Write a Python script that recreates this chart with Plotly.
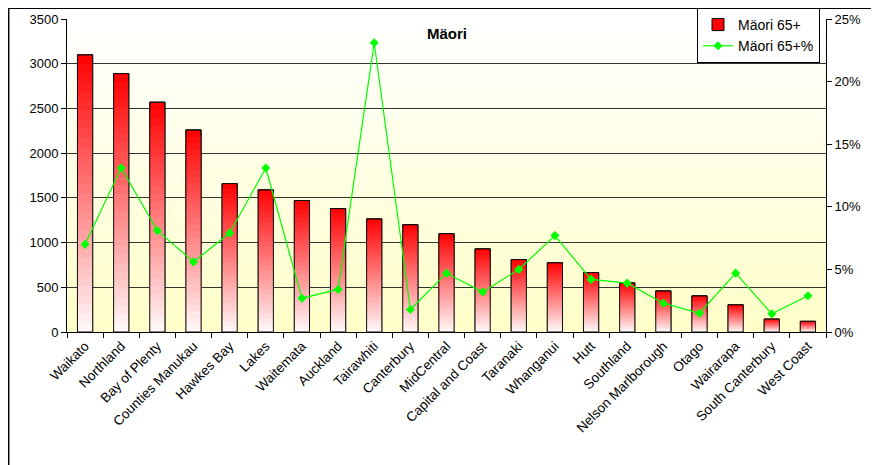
import plotly.graph_objects as go

categories = ["Waikato", "Northland", "Bay of Plenty", "Counties Manukau", "Hawkes Bay",
              "Lakes", "Waitemata", "Auckland", "Tairawhiti", "Canterbury", "MidCentral",
              "Capital and Coast", "Taranaki", "Whanganui", "Hutt", "Southland",
              "Nelson Marlborough", "Otago", "Wairarapa", "South Canterbury", "West Coast"]
maori_65 = [3100, 2890, 2570, 2260, 1660, 1590, 1470, 1380, 1265, 1200, 1100,
            930, 810, 775, 665, 550, 460, 405, 305, 145, 120]
maori_65_pct = [0.070, 0.131, 0.081, 0.056, 0.079, 0.131, 0.027, 0.034, 0.231, 0.018, 0.047,
                0.032, 0.050, 0.077, 0.042, 0.039, 0.023, 0.015, 0.047, 0.0145, 0.029]
left_ticks = [0, 500, 1000, 1500, 2000, 2500, 3000, 3500]
right_ticks = [0, 0.05, 0.10, 0.15, 0.20, 0.25]

OFF = 8  # page body margin
W, H = 879 - OFF, 465 - OFF
# plot area in page pixels
PL, PR, PT, PB = 67, 826, 19, 332
L, R, T, B = PL - OFF, PR - OFF, PT - OFF, PB - OFF

FONT = "Liberation Sans, Arial, sans-serif"

def px_x(p):  # page pixel -> paper
    return (p - OFF - L) / (R - L)

def px_y(p):
    return (B - (p - OFF)) / (B - T)

def mix(c1, c2, t):
    return "rgb(%d,%d,%d)" % tuple(round(a + (b - a) * t) for a, b in zip(c1, c2))

fig = go.Figure()

# gradient bars: overlay layers of decreasing height, red at top to white at bottom
N = 30
RED = (255, 0, 0)
WHITE = (255, 250, 250)
for k in range(N):
    f = 1 - k / N
    c = f - 0.5 / N
    fig.add_trace(go.Bar(
        x=categories, y=[v * f for v in maori_65],
        name="Mäori 65+", showlegend=(k == 0),
        marker=dict(color=mix(WHITE, RED, c),
                    line=dict(width=1 if k == 0 else 0, color="black")),
        hoverinfo="skip" if k > 0 else None,
        width=0.42,
    ))
# outline
fig.add_trace(go.Bar(
    x=categories, y=maori_65, showlegend=False, hoverinfo="skip",
    marker=dict(color="rgba(0,0,0,0)", line=dict(width=1, color="#111")),
    width=0.42,
))

fig.add_trace(go.Scatter(
    x=categories, y=maori_65_pct, name="Mäori 65+%", yaxis="y2",
    mode="lines+markers",
    line=dict(color="#00FF00", width=1.2),
    marker=dict(symbol="diamond", size=7, color="#00FF00"),
))

# background gradient (white top -> light yellow bottom)
shapes = []
NB = 40
for i in range(NB):
    y0 = i / NB
    y1 = (i + 1) / NB
    t = 1 - (i + 0.5) / NB
    shapes.append(dict(type="rect", xref="x domain", yref="y domain",
                       x0=0, x1=1, y0=y0, y1=y1 + 0.002,
                       fillcolor=mix((255, 255, 255), (255, 255, 200), t),
                       line=dict(width=0), layer="below"))
# outer frame lines (top and left edges of the chart box)
shapes.append(dict(type="line", xref="paper", yref="paper",
                   x0=px_x(8.7), x1=px_x(8.7), y0=px_y(8), y1=px_y(470),
                   line=dict(color="black", width=1.5)))
shapes.append(dict(type="line", xref="paper", yref="paper",
                   x0=px_x(8), x1=px_x(885), y0=px_y(8.5), y1=px_y(8.5),
                   line=dict(color="black", width=1)))

fig.update_layout(
    width=W, height=H,
    margin=dict(l=L, r=W - R, t=T, b=H - B, autoexpand=False),
    paper_bgcolor="white", plot_bgcolor="white",
    barmode="overlay",
    font=dict(family=FONT, size=13, color="black"),
    showlegend=True,
    legend=dict(x=px_x(697), y=px_y(8), xanchor="left", yanchor="top",
                bgcolor="white", bordercolor="black", borderwidth=1,
                font=dict(family=FONT, size=14), tracegroupgap=4,
                itemwidth=30),
    xaxis=dict(type="category", tickson="boundaries", ticks="outside", ticklen=5,
               tickcolor="black", showline=True, linecolor="black", linewidth=1,
               tickangle=-45, showgrid=False, tickfont=dict(size=13.5),
               range=[-0.5, len(categories) - 0.5], automargin=False),
    yaxis=dict(range=[0, 3500], tickvals=left_ticks, ticks="outside", ticklen=5,
               tickcolor="black", showline=True, linecolor="black", linewidth=1,
               showgrid=True, gridcolor="#333", gridwidth=1, zeroline=False,
               tickfont=dict(size=13), automargin=False),
    yaxis2=dict(range=[0, 0.25], tickvals=right_ticks, tickformat=".0%",
                overlaying="y", side="right", ticks="outside", ticklen=5,
                tickcolor="black", showline=True, linecolor="black", linewidth=1,
                showgrid=False, zeroline=False, tickfont=dict(size=13),
                automargin=False),
    shapes=shapes,
    annotations=[
        dict(text="<b>Mäori</b>", xref="paper", yref="paper", x=0.5, y=px_y(33),
             xanchor="center", yanchor="middle", showarrow=False,
             font=dict(family=FONT, size=15, color="black")),
    ],
)

fig.write_html("out.html")
